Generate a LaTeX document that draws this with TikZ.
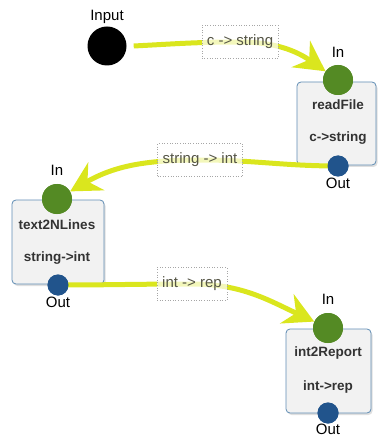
\documentclass[tikz,border=0pt]{standalone}
\usepackage{fontspec}
\setmainfont{Liberation Sans}
\usetikzlibrary{arrows.meta,shadows}
\definecolor{edgey}{RGB}{218,230,30}
\definecolor{ingreen}{RGB}{84,138,36}
\definecolor{outblue}{RGB}{33,84,140}
\definecolor{boxline}{RGB}{95,140,180}
\definecolor{boxfill}{RGB}{242,242,242}
\definecolor{lbltext}{RGB}{85,85,70}
\tikzset{
  flow/.style={draw=edgey, line width=5pt, -{Stealth[length=30pt,width=32pt,inset=10pt]}},
  flowplain/.style={draw=edgey, line width=5pt},
  procbox/.style={draw=boxline, line width=0.8pt, fill=boxfill, rounded corners=4pt,
    drop shadow={shadow xshift=1.5pt, shadow yshift=-2pt, opacity=0.25}},
  inport/.style={circle, fill=ingreen, minimum size=30pt, inner sep=0pt},
  outport/.style={circle, fill=outblue, minimum size=21pt, inner sep=0pt},
  portlbl/.style={font=\fontsize{15}{17}\selectfont, text=black, inner sep=0pt},
  boxtxt/.style={font=\fontsize{13.5}{15}\selectfont\bfseries, text=black!80, inner sep=0pt},
  edgelbl/.style={draw=gray!70, dotted, line width=0.6pt, fill=white, fill opacity=0.7, text opacity=1,
    text=lbltext, font=\fontsize{15}{17}\selectfont, minimum height=33pt, inner xsep=5pt}
}
\begin{document}
\begin{tikzpicture}[x=1pt,y=-1pt]
\useasboundingbox (0,0) rectangle (377,438);
% boxes
\draw[procbox] (297,82) rectangle (376,165);
\draw[procbox] (12,200) rectangle (104,284);
\draw[procbox] (286,329) rectangle (371,413);
% box texts
\node[boxtxt] (rft) at (338,105) {readFile};
\node[boxtxt] (rfs) at (338,138) {c->string};
\node[boxtxt] (tnt) at (57,225) {text2NLines};
\node[boxtxt] (tns) at (57,258) {string->int};
\node[boxtxt] (irt) at (328,353) {int2Report};
\node[boxtxt] (irs) at (328,387) {int->rep};
% input
\node[circle, fill=black, minimum size=39pt, inner sep=0pt] (input) at (107,46) {};
\node[portlbl] (inputl) at (107,17) {Input};
% ports
\node[inport] (rfin) at (338,80) {};
\node[outport] (rfout) at (338,166) {};
\node[inport] (tnin) at (57,199) {};
\node[outport] (tnout) at (58,285) {};
\node[inport] (irin) at (328,328) {};
\node[outport] (irout) at (328,413) {};
\node[portlbl] at (338,52) {In};
\node[portlbl] at (338,183) {Out};
\node[portlbl] at (57,170) {In};
\node[portlbl] at (58,302) {Out};
\node[portlbl] at (328,299) {In};
\node[portlbl] at (328,429) {Out};
% edge label anchors
\coordinate (l1) at (240,42);
\coordinate (l2) at (200,160);
\coordinate (l3) at (192,284);
% edges
\draw[flowplain] ([xshift=7pt]input.east) to[out=3,in=180] (l1);
\draw[flow] (l1) to[out=0,in=145] (rfin);
\draw[flowplain] (rfout.center) to[out=180,in=0] (l2);
\draw[flow] (l2) to[out=180,in=30] (tnin);
\draw[flowplain] (tnout.center) to[out=0,in=180] (l3);
\draw[flow] (l3) to[out=0,in=155] (irin);
% redraw ports on top
\node[inport] at (rfin) {};
\node[outport] at (rfout) {};
\node[inport] at (tnin) {};
\node[outport] at (tnout) {};
\node[inport] at (irin) {};
\node[outport] at (irout) {};
% edge labels
\node[edgelbl] (e1) at (l1) {c -> string};
\node[edgelbl] (e2) at (l2) {string -> int};
\node[edgelbl] (e3) at (l3) {int -> rep};
\end{tikzpicture}
\end{document}
